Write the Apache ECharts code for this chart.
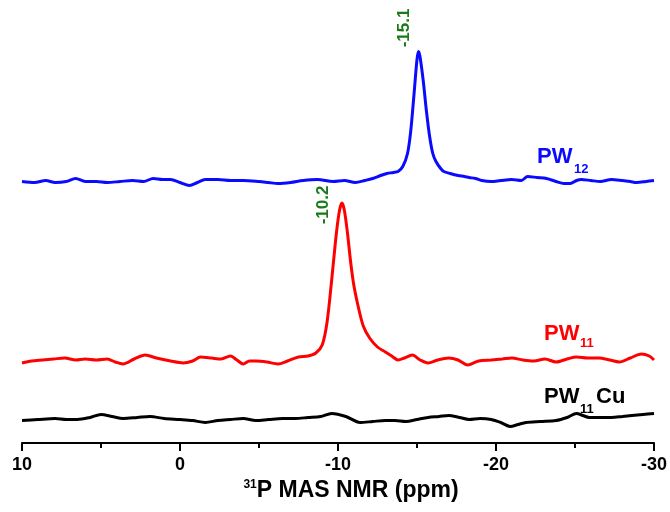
<!DOCTYPE html>
<html>
<head>
<meta charset="utf-8">
<script src="https://cdn.jsdelivr.net/npm/echarts@6/dist/echarts.min.js"></script>
<style>html,body{margin:0;padding:0;background:#fff}#c{width:670px;height:512px}</style>
</head>
<body>
<div id="c"></div>
<script>
// ---- data (ppm vs. intensity above each trace's own baseline) ----
const xTicks = [10, 0, -10, -20, -30];

const pw12Ppm = [10, 9.2, 8.5, 7.9, 7.2, 6.6, 6.0, 5.3, 4.6, 3.8, 3.0, 2.3, 1.7, 1.1, 0.6, 0.0, -0.6, -1.1, -1.6, -2.4, -3.2, -4.0, -5.0, -5.6, -6.2, -7.0, -7.8, -8.7, -9.7, -10.4, -11.1, -11.7, -12.2, -12.7, -13.1, -13.5, -13.8, -14.1, -14.4, -14.6, -14.8, -15.0, -15.1, -15.2, -15.4, -15.6, -15.8, -16.0, -16.2, -16.5, -16.7, -17.1, -17.6, -18.0, -18.3, -18.7, -19.1, -19.7, -20.3, -21.0, -21.6, -22.0, -22.6, -23.2, -23.8, -24.3, -24.7, -25.1, -25.4, -26.0, -26.6, -27.3, -28.0, -28.5, -28.9, -29.5, -30];
const pw12Int = [0, -1, 1, -1, 0, 3, 0, 0, -1, 0, 1, 0, 3, 2, 2, -1, -4, -1, 2, 2, 1, 1, 0, -1, -2, -1, 1, 2, 0, 1, -1, 1, 3, 6, 8, 9, 10, 15, 28, 50, 85, 122, 130, 124, 100, 70, 45, 28, 20, 13, 10, 8, 6, 5, 4, 3, 1, 0, 1, 2, 1, 5, 4, 3, 0, -2, -2, 1, 2, 1, 0, 2, 1, 0, -1, 0, 1];

const pw11Ppm = [10, 9.4, 8.7, 8.0, 7.3, 6.6, 6.0, 5.3, 4.6, 4.1, 3.6, 2.9, 2.2, 1.5, 0.6, -0.2, -0.8, -1.3, -2.0, -2.6, -3.2, -3.6, -4.0, -4.4, -4.8, -5.5, -6.2, -6.8, -7.5, -8.1, -8.6, -9.0, -9.3, -9.6, -9.9, -10.1, -10.25, -10.4, -10.6, -10.8, -11.0, -11.3, -11.6, -12.0, -12.5, -13.0, -13.4, -13.8, -14.2, -14.7, -15.2, -15.7, -16.3, -17.0, -17.6, -18.2, -18.9, -19.7, -20.4, -21.0, -21.7, -22.4, -23.1, -23.8, -24.5, -25.1, -25.8, -26.5, -27.2, -27.8, -28.5, -29.2, -29.7, -30];
const pw11Int = [-3, -1, 0, 1, 2, 0, 1, 0, 1, -2, -4, 1, 5, 2, -1, -3, -1, 3, 2, 1, 4, 0, -4, -1, -1, -2, -4, -1, 3, 4, 7, 15, 37, 80, 127, 150, 157, 150, 127, 98, 75, 52, 34, 22, 13, 8, 4, 0, 2, 5, 0, -3, 0, 2, 0, -5, -1, 0, 1, 2, 0, -1, 1, -2, 1, 3, 2, 2, 0, -2, 2, 6, 4, 0];

const pw11CuPpm = [10, 9.0, 7.9, 7.2, 6.5, 5.7, 5.0, 4.3, 3.6, 2.7, 1.9, 1.0, 0.0, -0.8, -1.6, -2.4, -3.2, -4.0, -4.8, -5.6, -6.5, -7.3, -8.1, -8.9, -9.6, -10.5, -11.4, -12.2, -13.0, -13.6, -14.3, -15.0, -15.7, -16.4, -17.0, -17.7, -18.3, -19.0, -19.7, -20.3, -20.9, -21.4, -21.9, -22.8, -23.8, -24.5, -25.1, -25.5, -25.9, -26.6, -27.3, -28.0, -28.6, -29.3, -30];
const pw11CuInt = [-1, 0, 1, 0, 0, 2, 5, 3, 1, 2, 3, 1, 0, -1, -3, -1, 0, 1, -1, 0, 1, 1, 2, 3, 6, 3, -3, -2, -1, -1, -2, 0, 2, 3, 4, 2, 0, 1, 0, -3, -7, -5, -3, -2, -1, 2, 6, 4, 2, 2, 2, 3, 4, 5, 6];

// vertical stacking offsets of the three traces
const offsets = { pw12: 261.5, pw11: 83, pw11Cu: 23.5 };
const peakLabels = ['-15.1', '-10.2'];

function build(ppm, inten, off) { return ppm.map((p, i) => [p, inten[i] + off]); }

const chart = echarts.init(document.getElementById('c'), null, { renderer: 'canvas' });
const FONT = 'Liberation Sans, Arial, sans-serif';
const green = '#1a7a1a';

chart.setOption({
  animation: false,
  backgroundColor: '#fff',
  grid: { left: 22, right: 14, top: 0, bottom: 69 },
  xAxis: {
    type: 'value', min: -30, max: 10, interval: 10, inverse: true,
    axisLine: { show: true, onZero: false, lineStyle: { color: '#000', width: 2 } },
    axisTick: { show: true, length: 8, lineStyle: { color: '#000', width: 2 } },
    minorTick: { show: true, splitNumber: 2, length: 5, lineStyle: { color: '#000', width: 2 } },
    splitLine: { show: false },
    axisLabel: { color: '#000', fontFamily: FONT, fontWeight: 'bold', fontSize: 18, margin: 13,
      formatter: v => xTicks.includes(v) ? String(v) : '' },
    name: '{sup|31}{m|P MAS NMR (ppm)}',
    nameLocation: 'middle', nameGap: 35,
    nameTextStyle: {
      padding: [0, 0, 0, 26],
      rich: {
        m: { fontFamily: FONT, fontWeight: 'bold', fontSize: 23, lineHeight: 24, color: '#000' },
        sup: { fontFamily: FONT, fontWeight: 'bold', fontSize: 12, lineHeight: 12, verticalAlign: 'top', color: '#000' }
      }
    }
  },
  yAxis: { type: 'value', min: 0, max: 443, show: false },
  series: [
    { type: 'line', name: 'PW12', data: build(pw12Ppm, pw12Int, offsets.pw12), showSymbol: false, smooth: 0.3,
      lineStyle: { color: '#0a0aff', width: 3 } },
    { type: 'line', name: 'PW11', data: build(pw11Ppm, pw11Int, offsets.pw11), showSymbol: false, smooth: 0.3,
      lineStyle: { color: '#ff0000', width: 3 } },
    { type: 'line', name: 'PW11Cu', data: build(pw11CuPpm, pw11CuInt, offsets.pw11Cu), showSymbol: false, smooth: 0.3,
      lineStyle: { color: '#000', width: 3 } }
  ],
  graphic: [
    { type: 'text', left: 537, top: 146, style: { text: 'PW', fill: '#0a0aff', font: 'bold 22px ' + FONT } },
    { type: 'text', left: 574, top: 163, style: { text: '12', fill: '#0a0aff', font: 'bold 13px ' + FONT } },
    { type: 'text', left: 544, top: 323, style: { text: 'PW', fill: '#ff0000', font: 'bold 22px ' + FONT } },
    { type: 'text', left: 580, top: 337, style: { text: '11', fill: '#ff0000', font: 'bold 13px ' + FONT } },
    { type: 'text', left: 544, top: 386, style: { text: 'PW', fill: '#000', font: 'bold 22px ' + FONT } },
    { type: 'text', left: 580, top: 403, style: { text: '11', fill: '#000', font: 'bold 13px ' + FONT } },
    { type: 'text', left: 596, top: 386, style: { text: 'Cu', fill: '#000', font: 'bold 22px ' + FONT } },
    { type: 'text', x: 404, y: 28, rotation: Math.PI / 2,
      style: { text: peakLabels[0], fill: green, font: 'bold 17px ' + FONT, align: 'center', verticalAlign: 'middle' } },
    { type: 'text', x: 323, y: 205, rotation: Math.PI / 2,
      style: { text: peakLabels[1], fill: green, font: 'bold 17px ' + FONT, align: 'center', verticalAlign: 'middle' } }
  ]
});
</script>
</body>
</html>
